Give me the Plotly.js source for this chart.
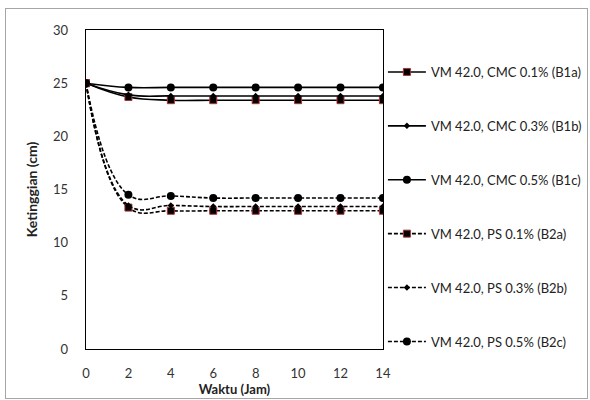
<!DOCTYPE html>
<html><head><meta charset="utf-8">
<script src="https://cdn.plot.ly/plotly-3.0.1.min.js"></script>
<style>body{margin:0;background:#fff}#wrap{position:relative;width:590px;height:400px}
#frame{position:absolute;left:5px;top:8px;width:581px;height:389px;border:1px solid #a6a6a6;pointer-events:none}</style>
</head><body><div id="wrap"><div id="chart" style="width:590px;height:400px"></div><div id="frame"></div></div>
<script>
const hours = [0, 2, 4, 6, 8, 10, 12, 14];
const names = ["VM 42.0, CMC 0.1% (B1a)", "VM 42.0, CMC 0.3% (B1b)", "VM 42.0, CMC 0.5% (B1c)",
               "VM 42.0, PS 0.1% (B2a)", "VM 42.0, PS 0.3% (B2b)", "VM 42.0, PS 0.5% (B2c)"];
const b1a = [25, 23.7, 23.4, 23.4, 23.4, 23.4, 23.4, 23.4];
const b1b = [25, 23.9, 23.8, 23.8, 23.8, 23.8, 23.8, 23.8];
const b1c = [25, 24.6, 24.6, 24.6, 24.6, 24.6, 24.6, 24.6];
const b2a = [25, 13.3, 13.0, 13.0, 13.0, 13.0, 13.0, 13.0];
const b2b = [25, 13.5, 13.5, 13.4, 13.4, 13.4, 13.4, 13.4];
const b2c = [25, 14.5, 14.4, 14.2, 14.2, 14.2, 14.2, 14.2];
const series = [b1a, b1b, b1c, b2a, b2b, b2c];
const symbols = ["square", "diamond", "circle", "square", "diamond", "circle"];
const sizes = [7, 5, 8, 7, 5, 8];
const dashes = ["solid", "solid", "solid", "4px,2px", "4px,2px", "4px,2px"];

const traces = series.map((ys, i) => ({
  x: hours, y: ys, name: names[i], type: "scatter", mode: "lines+markers",
  legendgroup: "g" + i,
  line: {color: "#000", width: 1.6, shape: "spline", smoothing: 1.2, dash: dashes[i]},
  marker: {symbol: symbols[i], size: sizes[i], color: "#000",
           line: {color: symbols[i] === "square" ? "#a33" : "#000", width: symbols[i] === "square" ? 1 : 0}}
}));

const layout = {
  width: 590, height: 400,
  margin: {l: 86, r: 202, t: 30, b: 51},
  paper_bgcolor: "#fff", plot_bgcolor: "#fff",
  font: {family: "Lato, 'Open Sans', sans-serif", size: 12, color: "#222"},
  xaxis: {range: [0, 14], tickvals: hours, showgrid: false, zeroline: false,
          showline: true, linecolor: "#000", linewidth: 1.3, mirror: true,
          ticks: "", ticklabelstandoff: 12, tickfont: {size: 13, color: "#333"},
          title: {text: "<b>Waktu (Jam)</b>", font: {size: 13, color: "#222"}, standoff: 3}},
  yaxis: {range: [0, 30], dtick: 5, showgrid: false, zeroline: false,
          showline: true, linecolor: "#000", linewidth: 1.3, mirror: true,
          ticks: "", ticklabelstandoff: 14, tickfont: {size: 13, color: "#333"},
          title: {text: "<b>Ketinggian (cm)</b>", font: {size: 14, color: "#222"}, standoff: 12}},
  legend: {xref: "container", yref: "container", x: 0.649, xanchor: "left", y: 0.8575, yanchor: "top",
           traceorder: "grouped", tracegroupgap: 34, font: {size: 13, color: "#222"},
           bgcolor: "rgba(0,0,0,0)", itemwidth: 38, maxheight: 400},
  showlegend: true
};
Plotly.newPlot("chart", traces, layout, {displayModeBar: false, staticPlot: true});
</script></body></html>
